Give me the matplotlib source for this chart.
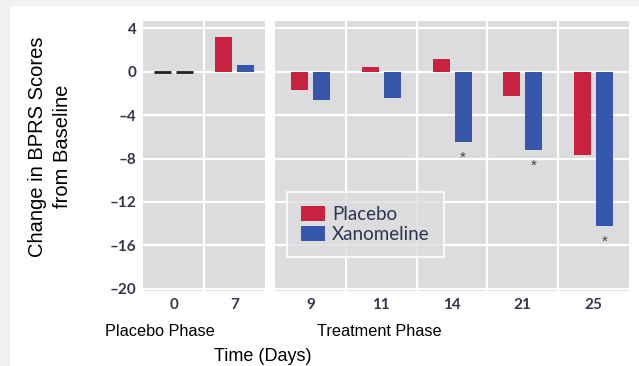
import matplotlib
matplotlib.use("Agg")
import matplotlib.pyplot as plt
from matplotlib.patches import Rectangle, Patch
from matplotlib import font_manager as fm

# ---------------- data ----------------
phase1_days = ["0", "7"]
phase1_placebo = [0.0, 3.2]
phase1_xanomeline = [0.0, 0.6]

phase2_days = ["9", "11", "14", "21", "25"]
phase2_placebo = [-1.7, 0.4, 1.2, -2.2, -7.7]
phase2_xanomeline = [-2.6, -2.4, -6.45, -7.2, -14.2]
phase2_signif = [False, False, True, True, True]

y_ticks = [4, 0, -4, -8, -12, -16, -20]
y_ticklabels = ["4", "0", "\u20134", "\u20138", "\u201312", "\u201316", "\u201320"]

series_names = ["Placebo", "Xanomeline"]
phase_names = ["Placebo Phase", "Treatment Phase"]
x_title = "Time (Days)"
y_title = "Change in BPRS Scores\nfrom Baseline"

# ---------------- style ----------------
RED = "#c8223f"
BLUE = "#3657a9"
PANEL = "#dcdcde"
TICKCOL = "#34364a"
W, H = 639, 366

names = {f.name for f in fm.fontManager.ttflist}
tickfont = "Lato" if "Lato" in names else "DejaVu Sans"
labfont = "Liberation Sans" if "Liberation Sans" in names else "DejaVu Sans"
narrow = "Liberation Sans Narrow" if "Liberation Sans Narrow" in names else labfont
narrow_size = 12.5 if narrow != labfont else 11.7

fig = plt.figure(figsize=(W / 100, H / 100), dpi=100)
fig.patch.set_facecolor("white")

# light border strips
fig.add_artist(Rectangle((0, 1 - 6 / H), 1, 6 / H, transform=fig.transFigure,
                         facecolor="#f2f1ef", edgecolor="none", zorder=0))
fig.add_artist(Rectangle((0, 0), 10 / W, 1, transform=fig.transFigure,
                         facecolor="#f2f1ef", edgecolor="none", zorder=0))

top_px, bot_px = 21, 290.7
ylim = (-20.2, 4.69)


def make_ax(x0, x1, days, plc, xan, signif, show_y):
    ax = fig.add_axes([x0 / W, 1 - bot_px / H, (x1 - x0) / W, (bot_px - top_px) / H])
    ax.set_facecolor(PANEL)
    n = len(days)
    cell_px = (x1 - x0) / n
    bw = 17 / cell_px
    off = 11 / cell_px
    xs = list(range(n))
    for i in xs:
        for val, dx, col in ((plc[i], -off, RED), (xan[i], off, BLUE)):
            if val == 0:
                ax.hlines(0, i + dx - bw / 2, i + dx + bw / 2, color="#222222",
                          lw=2.0, zorder=3)
            else:
                ax.bar(i + dx, val, width=bw, color=col, zorder=3, linewidth=0)
        if signif[i]:
            ax.text(i + off, xan[i] - 1.5, "*", ha="center", va="center",
                    fontsize=11, color="#444444", family=labfont, zorder=4)
    ax.set_xlim(-0.5, n - 0.5)
    ax.set_ylim(*ylim)
    ax.set_yticks(y_ticks)
    ax.set_xticks(xs)
    ax.set_xticklabels(days)
    ax.set_xticks([i + 0.5 for i in range(n - 1)], minor=True)
    if show_y:
        ax.set_yticklabels(y_ticklabels)
    else:
        ax.set_yticklabels([])
    ax.grid(True, axis="y", which="major", color="white", lw=1.6, zorder=1)
    ax.grid(True, axis="x", which="minor", color="white", lw=1.6, zorder=1)
    ax.grid(False, axis="x", which="major")
    ax.tick_params(which="both", length=0)
    ax.tick_params(axis="y", pad=5)
    ax.tick_params(axis="x", pad=5)
    for lab in ax.get_xticklabels() + ax.get_yticklabels():
        lab.set_family(tickfont)
        lab.set_fontsize(11)
        lab.set_color(TICKCOL)
        lab.set_fontweight("bold")
    for s in ax.spines.values():
        s.set_visible(False)
    ax.set_axisbelow(True)
    return ax


ax1 = make_ax(143.3, 265, phase1_days, phase1_placebo, phase1_xanomeline,
              [False] * len(phase1_days), True)
ax2 = make_ax(275, 629, phase2_days, phase2_placebo, phase2_xanomeline,
              phase2_signif, False)

handles = [Patch(facecolor=RED, edgecolor="none"), Patch(facecolor=BLUE, edgecolor="none")]
leg = fig.legend(handles, series_names, loc="upper left",
                 bbox_to_anchor=(287 / W, 1 - 192 / H), bbox_transform=fig.transFigure,
                 frameon=True, fancybox=False, borderaxespad=0,
                 prop={"family": tickfont, "size": 13.5},
                 handlelength=1.3, handleheight=0.8, handletextpad=0.35,
                 labelspacing=0.15, borderpad=0.75)
leg.get_frame().set_facecolor(PANEL)
leg.get_frame().set_edgecolor("white")
leg.get_frame().set_linewidth(1.5)
for t in leg.get_texts():
    t.set_color("#2e3350")

fig.text(159.5 / W, 1 - 331.7 / H, phase_names[0], ha="center", va="center",
         fontsize=narrow_size, family=narrow, color="black")
fig.text(379 / W, 1 - 331.7 / H, phase_names[1], ha="center", va="center",
         fontsize=narrow_size, family=narrow, color="black")
fig.text(263 / W, 1 - 356.7 / H, x_title, ha="center", va="center",
         fontsize=13, family=labfont, color="black")
fig.text(50 / W, 1 - 146.5 / H, y_title, ha="center", va="center", rotation=90,
         fontsize=14.5, family=labfont, color="black", multialignment="center",
         linespacing=1.4)

fig.savefig("out.png", dpi=100)
